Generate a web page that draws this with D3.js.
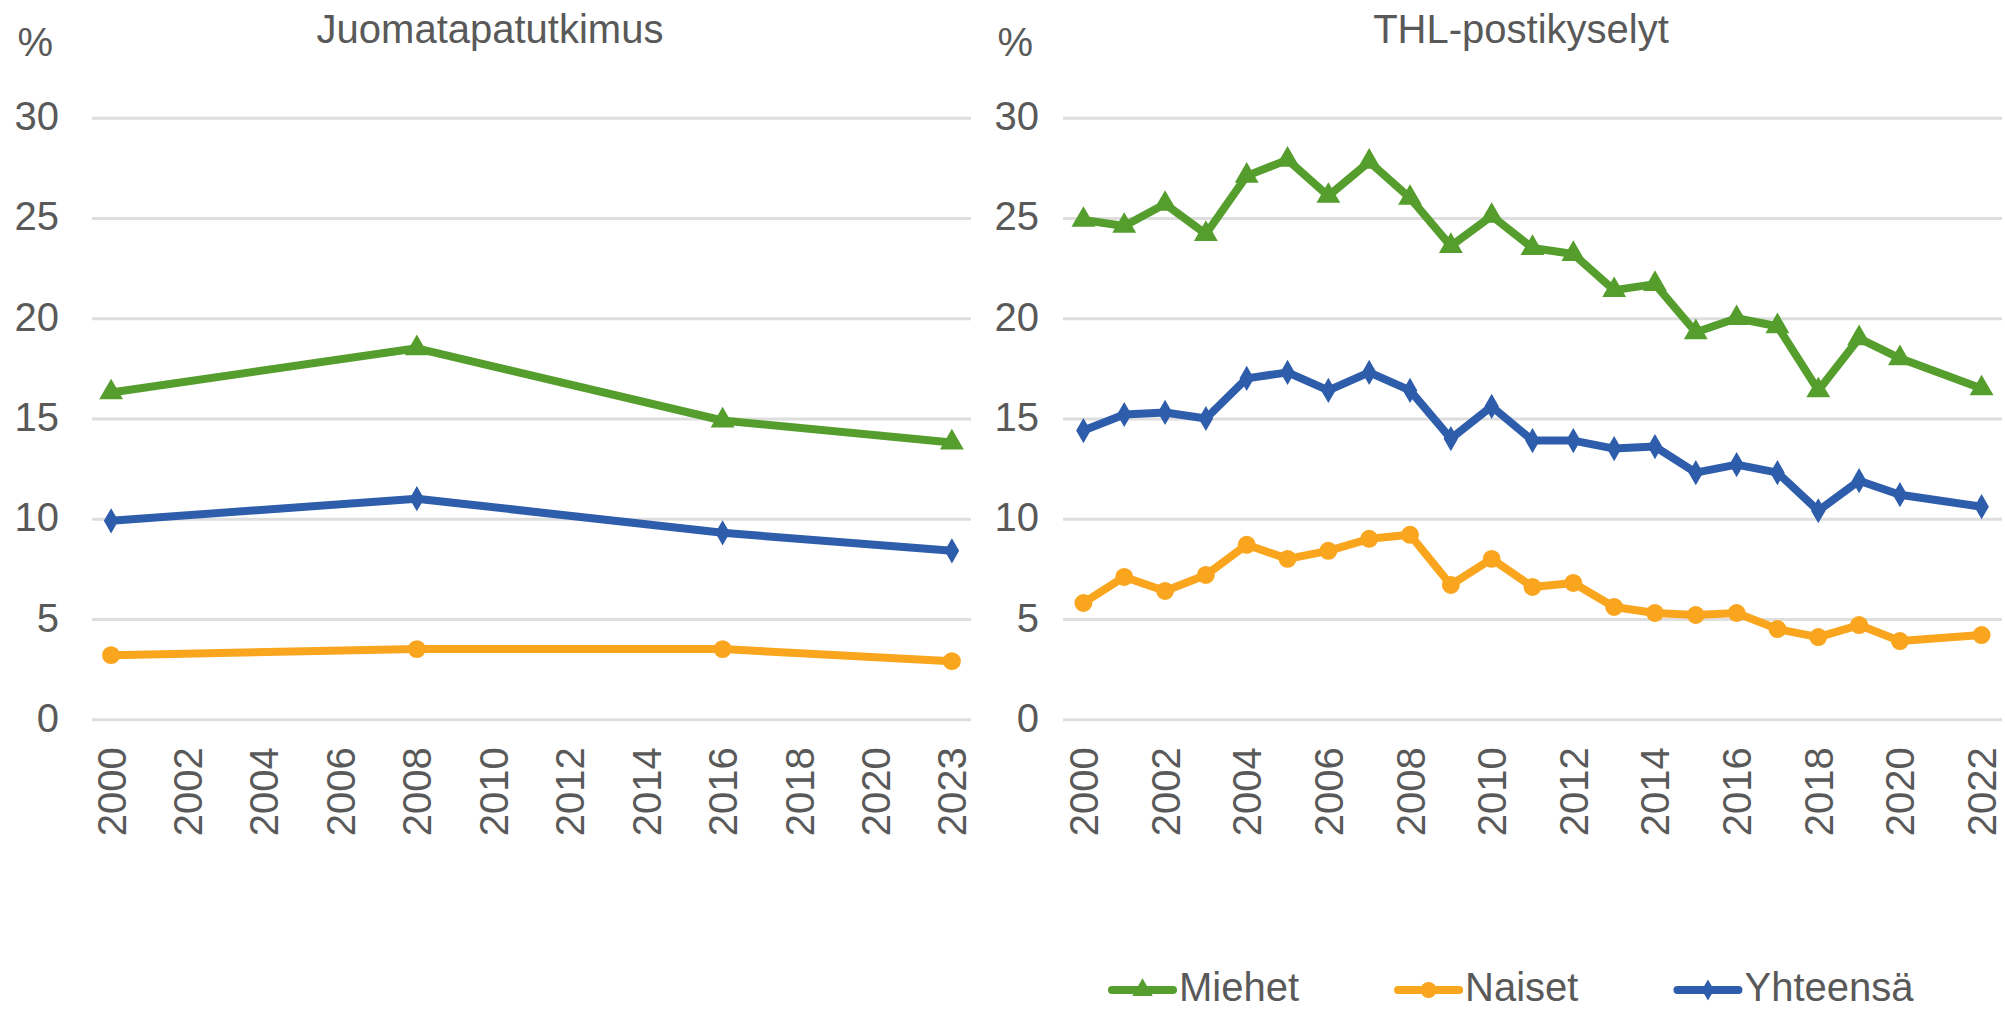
<html>

<head>
  <meta charset="utf-8">
  <title>Juomatapatutkimus ja THL-postikyselyt</title>
  <style>
    body {
      margin: 0;
      background: white;
      font-family: "Liberation Sans", Arial, Helvetica, sans-serif;
    }

    text {
      fill: #595959;
    }
  </style>
</head>

<body>
  <svg id="chart"></svg>

  <script src="https://cdn.jsdelivr.net/npm/d3@7"></script>
  <script>
    // Data
    var seriesNames = ["Miehet", "Naiset", "Yhteensä"];
    var seriesColors = ["#559E2E", "#F9A51E", "#2E5DAB"];

    var yTicks = [0, 5, 10, 15, 20, 25, 30];

    // Juomatapatutkimus
    var leftTitle = "Juomatapatutkimus";
    var leftYears = ["2000", "2002", "2004", "2006", "2008", "2010", "2012", "2014", "2016", "2018", "2020", "2023"];
    var leftMiehet = [16.3, null, null, null, 18.5, null, null, null, 14.9, null, null, 13.8];
    var leftNaiset = [3.2, null, null, null, 3.5, null, null, null, 3.5, null, null, 2.9];
    var leftYhteensa = [9.9, null, null, null, 11.0, null, null, null, 9.3, null, null, 8.4];

    // THL-postikyselyt
    var rightTitle = "THL-postikyselyt";
    var rightYears = ["2000", "2001", "2002", "2003", "2004", "2005", "2006", "2007", "2008", "2009", "2010",
      "2011", "2012", "2013", "2014", "2015", "2016", "2017", "2018", "2019", "2020", "2021", "2022"];
    var rightYearLabels = ["2000", "2002", "2004", "2006", "2008", "2010", "2012", "2014", "2016", "2018", "2020", "2022"];
    var rightMiehet = [24.9, 24.6, 25.7, 24.2, 27.1, 27.9, 26.1, 27.8, 26.0, 23.6, 25.1,
      23.5, 23.2, 21.4, 21.7, 19.3, 20.0, 19.6, 16.4, 19.0, 18.0, null, 16.5];
    var rightNaiset = [5.8, 7.1, 6.4, 7.2, 8.7, 8.0, 8.4, 9.0, 9.2, 6.7, 8.0,
      6.6, 6.8, 5.6, 5.3, 5.2, 5.3, 4.5, 4.1, 4.7, 3.9, null, 4.2];
    var rightYhteensa = [14.4, 15.2, 15.3, 15.0, 17.0, 17.3, 16.4, 17.3, 16.4, 14.0, 15.6,
      13.9, 13.9, 13.5, 13.6, 12.3, 12.7, 12.3, 10.4, 11.9, 11.2, null, 10.6];

    // 尺寸
    var width = 2005;
    var height = 1011;
    var fontSize = 40;

    var svg = d3.select("#chart")
      .attr("width", width)
      .attr("height", height);

    var yScale = d3.scaleLinear()
      .domain([0, 30])
      .range([719.3, 117.7]);

    var symbols = [d3.symbolTriangle, d3.symbolCircle, d3.symbolDiamond];
    var symbolSizes = [180, 200, 130];

    var panels = [
      {
        title: leftTitle, titleX: 490, years: leftYears, labels: leftYears,
        values: [leftMiehet, leftNaiset, leftYhteensa],
        left: 92, right: 971, padding: 0.25, pctX: 53
      },
      {
        title: rightTitle, titleX: 1521, years: rightYears, labels: rightYearLabels,
        values: [rightMiehet, rightNaiset, rightYhteensa],
        left: 1063, right: 2002, padding: 0.5, pctX: 1033
      }
    ];

    panels.forEach(function (p) {
      drawPanel(p);
    });
    drawLegend();

    function drawPanel(p) {
      var xScale = d3.scalePoint()
        .domain(p.years)
        .range([p.left, p.right])
        .padding(p.padding);

      var g = svg.append("g");

      // 标题
      g.append("text")
        .attr("x", p.titleX)
        .attr("y", 43)
        .attr("text-anchor", "middle")
        .attr("font-size", fontSize)
        .text(p.title);

      g.append("text")
        .attr("x", p.pctX)
        .attr("y", 56)
        .attr("text-anchor", "end")
        .attr("font-size", fontSize)
        .text("%");

      // Y axis + gridlines
      var yAxis = d3.axisLeft(yScale)
        .tickValues(yTicks)
        .tickSize(-(p.right - p.left))
        .tickPadding(p.left - p.pctX - 6);
      var yg = g.append("g")
        .attr("transform", "translate(" + p.left + ",0)")
        .call(yAxis);
      yg.select(".domain").remove();
      yg.selectAll("line")
        .attr("stroke", "#DEDEDE")
        .attr("stroke-width", 3);
      yg.selectAll("text")
        .attr("font-size", fontSize)
        .attr("font-family", "Liberation Sans, Arial, sans-serif")
        .attr("dy", "0.3em")
        .style("fill", "#595959");

      // X axis
      var xAxis = d3.axisBottom(xScale)
        .tickValues(p.labels)
        .tickSize(0);
      var xg = g.append("g")
        .attr("transform", "translate(0," + yScale(0) + ")")
        .call(xAxis);
      xg.select(".domain").remove();
      xg.selectAll("text")
        .attr("font-size", fontSize)
        .attr("font-family", "Liberation Sans, Arial, sans-serif")
        .attr("transform", "rotate(-90)")
        .attr("x", -28)
        .attr("y", 0)
        .attr("dy", "0.35em")
        .style("text-anchor", "end")
        .style("fill", "#595959");

      // lines, drawn from last to first so Miehet is on top
      var order = [2, 1, 0];
      order.forEach(function (s) {
        var pts = p.years.map(function (yr, i) {
          return { year: yr, value: p.values[s][i] };
        }).filter(function (d) {
          return d.value !== null;
        });

        var line = d3.line()
          .x(function (d) { return xScale(d.year); })
          .y(function (d) { return yScale(d.value); });

        g.append("path")
          .datum(pts)
          .attr("d", line)
          .attr("fill", "none")
          .attr("stroke", seriesColors[s])
          .attr("stroke-width", 8)
          .attr("stroke-linejoin", "round");

        g.append("g")
          .selectAll("path")
          .data(pts)
          .join("path")
          .attr("d", d3.symbol().type(symbols[s]).size(symbolSizes[s]))
          .attr("transform", function (d) {
            return "translate(" + xScale(d.year) + "," + yScale(d.value) + ")";
          })
          .attr("fill", seriesColors[s])
          .attr("stroke", seriesColors[s])
          .attr("stroke-width", 2);
      });
    }

    // 图例
    function drawLegend() {
      var legend = svg.append("g").attr("id", "legend");
      var x = 1112;
      var ly = 990;
      seriesNames.forEach(function (name, i) {
        legend.append("line")
          .attr("x1", x)
          .attr("x2", x + 61)
          .attr("y1", ly)
          .attr("y2", ly)
          .attr("stroke", seriesColors[i])
          .attr("stroke-width", 8)
          .attr("stroke-linecap", "round");
        legend.append("path")
          .attr("d", d3.symbol().type(symbols[i]).size(symbolSizes[i]))
          .attr("transform", "translate(" + (x + 30.5) + "," + ly + ")")
          .attr("fill", seriesColors[i]);
        var t = legend.append("text")
          .attr("x", x + 67)
          .attr("y", 1001)
          .attr("font-size", fontSize)
          .text(name);
        x = x + 67 + t.node().getComputedTextLength() + 99;
      });
    }
  </script>
</body>

</html>
